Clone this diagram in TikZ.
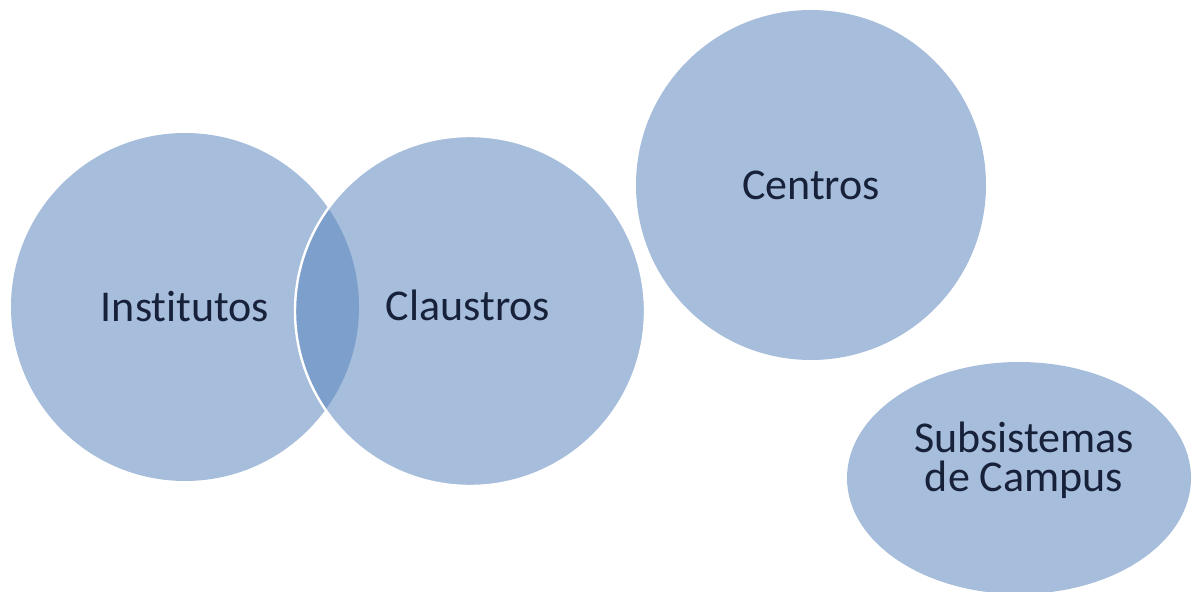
\documentclass[tikz,border=0pt]{standalone}
\usepackage{fontspec}
\setmainfont{Carlito}[Ligatures=NoCommon]
\usepackage{xcolor}
\definecolor{bubblefill}{HTML}{A6BDDB}
\definecolor{bubblelens}{HTML}{7C9FCB}
\definecolor{bubbletext}{HTML}{17213A}
\usepackage{tikz}
\usetikzlibrary{shapes.geometric,positioning}

\begin{document}
\begin{tikzpicture}[
  x=0.5pt, y=-0.5pt,
  bubble/.style={circle, fill=bubblefill, inner sep=0pt, text=bubbletext,
                 font=\fontsize{22}{19.5}\selectfont, align=center},
  oval/.style={ellipse, fill=bubblefill, inner sep=0pt},
  txt/.style={text=bubbletext, font=\fontsize{22}{19.5}\selectfont, align=center}
]
  \useasboundingbox (0,0) rectangle (1194,592);

  \node[bubble, minimum size=174pt] (inst) at (185,307) {Institutos};
  \node[bubble, minimum size=175pt] (claus) at (470,311) {};
  % darker overlap of the two circles
  \begin{scope}
    \clip (inst.center) circle[radius=87pt];
    \fill[bubblelens] (claus.center) circle[radius=87.5pt];
  \end{scope}
  \draw[white, line width=1.2pt] (claus.center) circle[radius=87.5pt];
  \node[txt] (clausl) at (468,305) {Claustros};

  \node[bubble, minimum size=175pt] (cent) at (811,185) {Centros};

  \node[oval, minimum width=172pt, minimum height=116pt] (subs) at (1019,478) {};
  \node[txt] (subsl) at (1024,460) {Subsistemas\\de Campus};
\end{tikzpicture}
\end{document}
